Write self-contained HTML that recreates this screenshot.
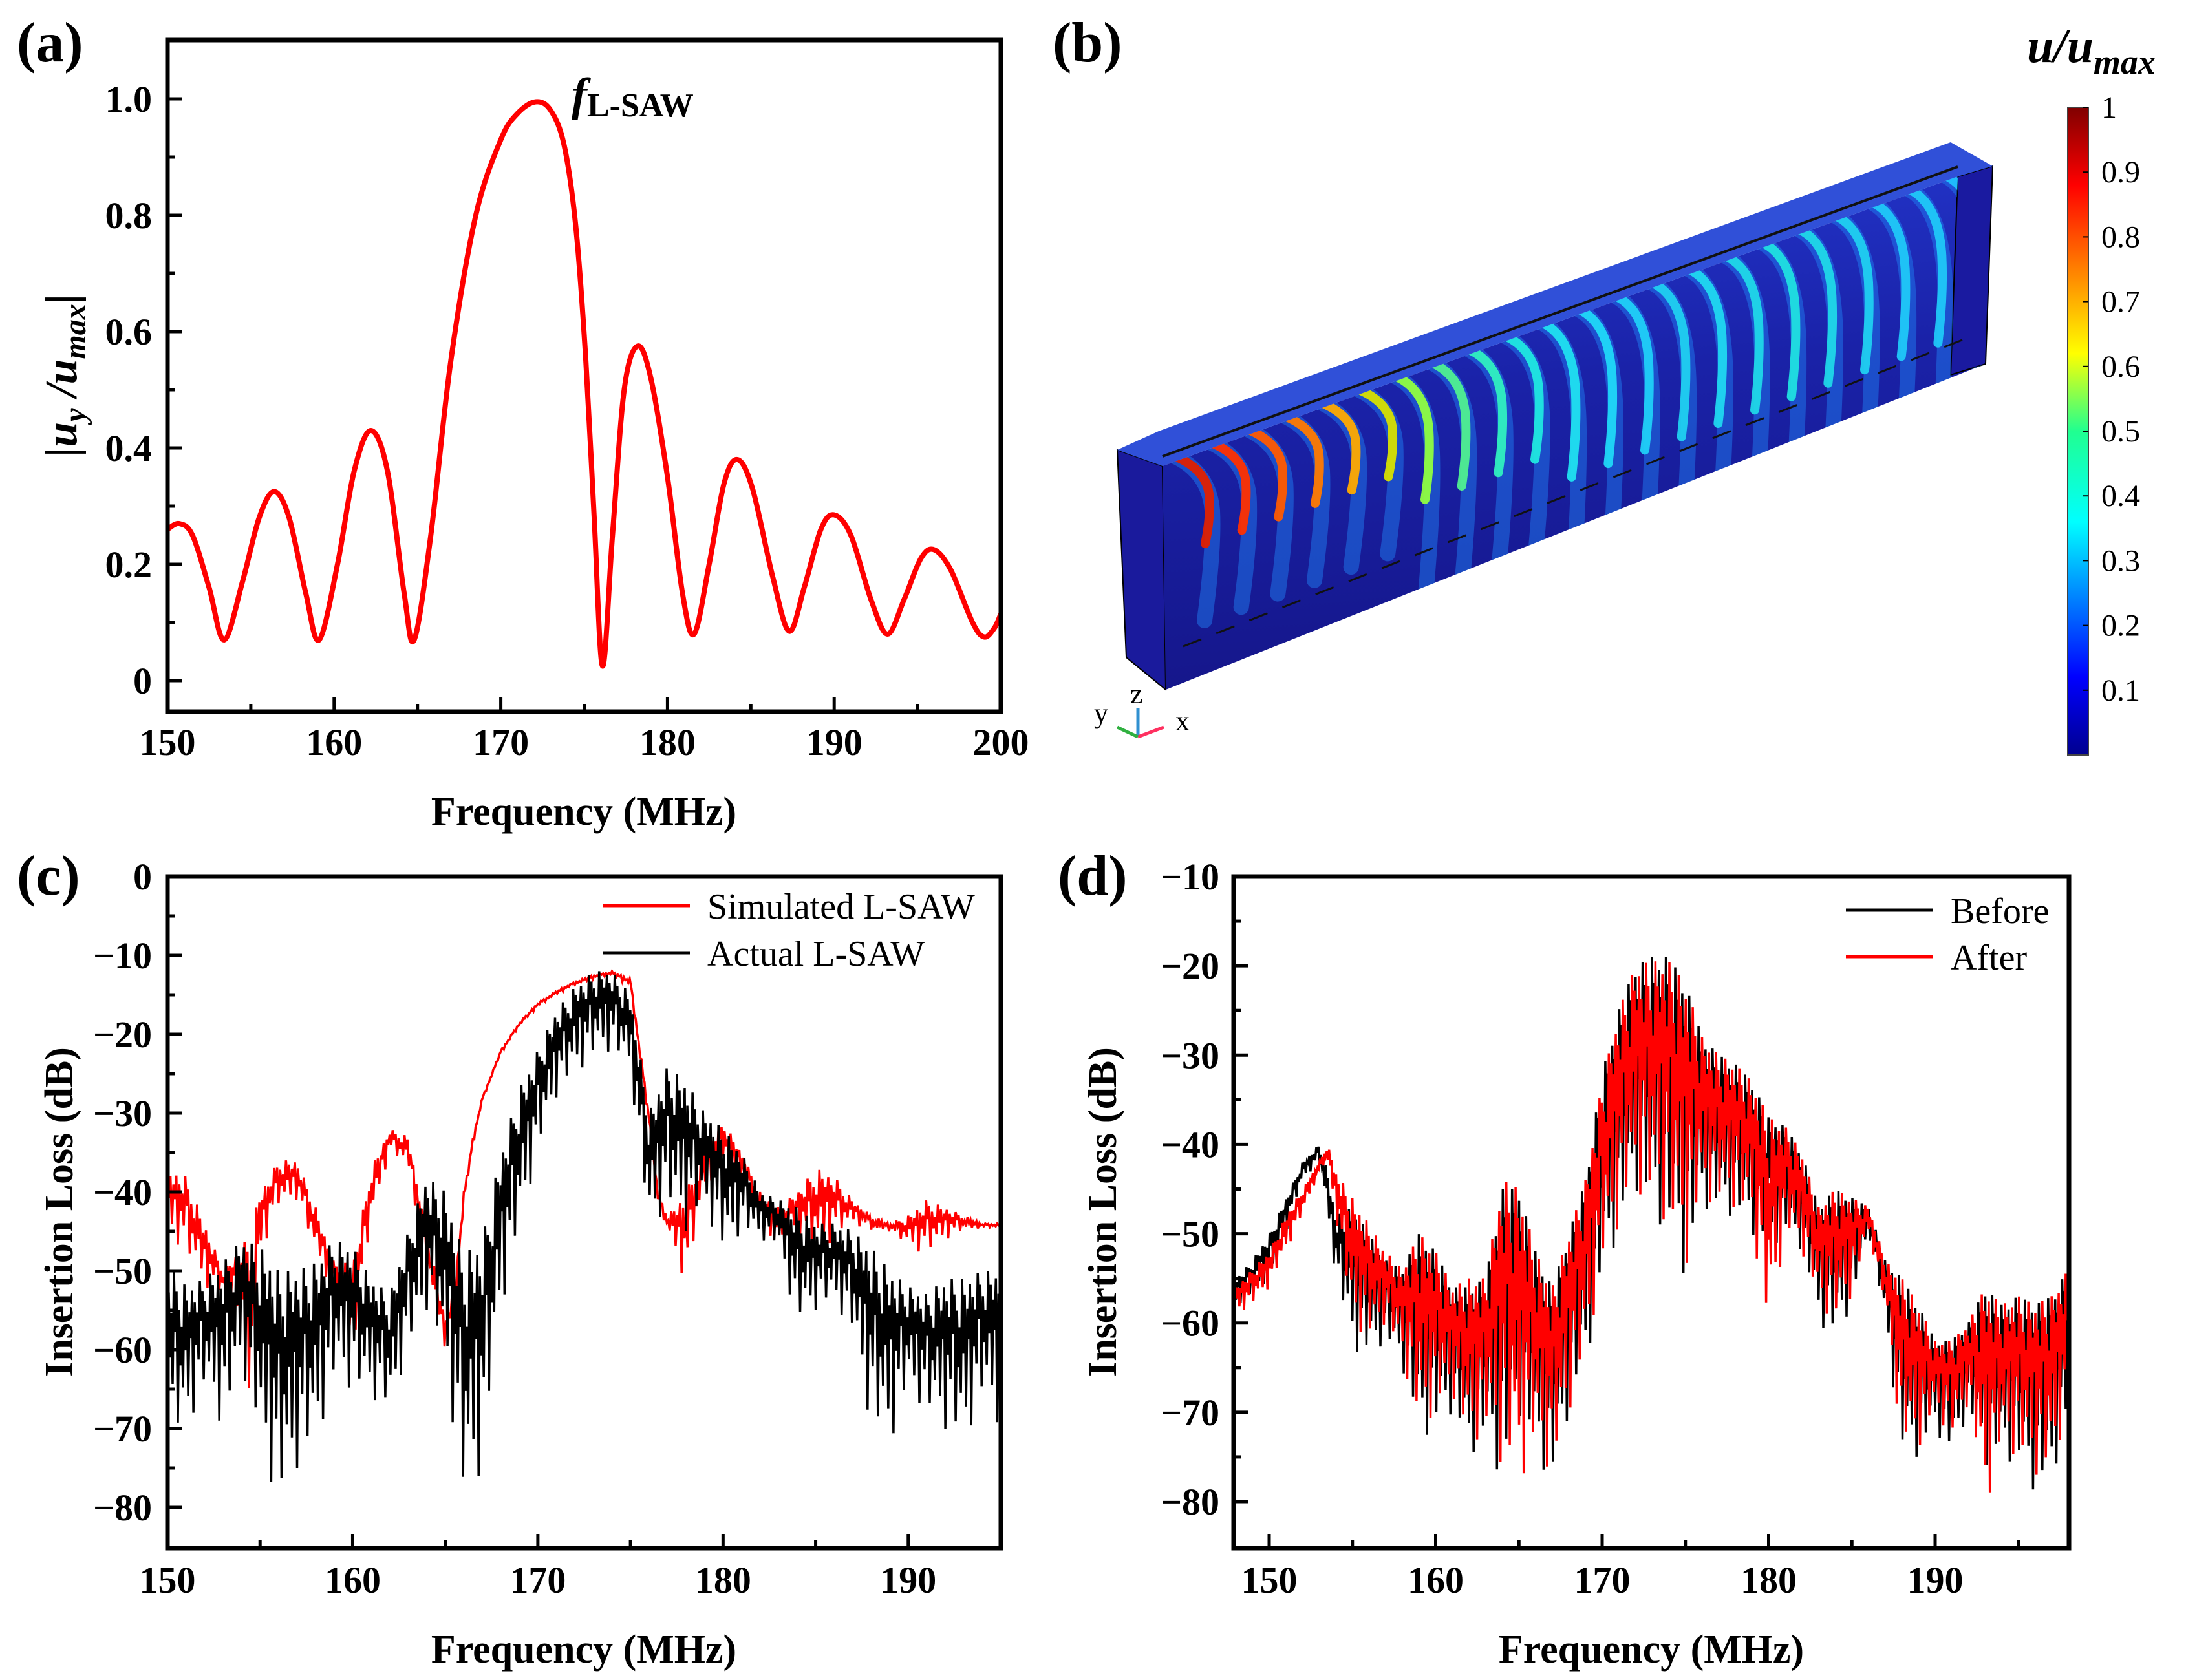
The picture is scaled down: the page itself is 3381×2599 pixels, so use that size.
<!DOCTYPE html>
<html><head><meta charset="utf-8"><style>
html,body{margin:0;padding:0;background:#fff;}
svg{display:block;}
text{font-family:"Liberation Serif","DejaVu Serif",serif;}
</style></head><body>
<svg id="fig" width="3381" height="2599" viewBox="0 0 3381 2599" xmlns="http://www.w3.org/2000/svg">
<defs>
<linearGradient id="jet" x1="0" y1="1" x2="0" y2="0">
<stop offset="0" stop-color="#00008f"/><stop offset="0.12" stop-color="#0000ff"/><stop offset="0.36" stop-color="#00ffff"/><stop offset="0.5" stop-color="#20ff90"/><stop offset="0.62" stop-color="#ffff00"/><stop offset="0.88" stop-color="#ff0000"/><stop offset="1" stop-color="#800000"/>
</linearGradient>
<linearGradient id="face" x1="0" y1="0" x2="0.15" y2="1">
<stop offset="0" stop-color="#2438d0"/><stop offset="0.45" stop-color="#1a22a8"/><stop offset="1" stop-color="#15168a"/>
</linearGradient>
<clipPath id="clipFace"><polygon points="1798,721 3028,273 3017,580 3071,563 1803,1067"/></clipPath>
</defs>
<g id="pa"></g>
<g id="pb"></g>
<g id="pc"></g>
<g id="pd"></g>
</svg>
<script>
// ---------- data ----------
const aFreq = [150,150.7,151.5,152.5,153.4,154.5,155.5,156.4,157.3,158.3,159.1,160.2,161.2,162.2,163.2,164.2,164.8,165.8,167,168.5,170,171,172.1,173,173.8,174.5,175.1,175.6,176.1,176.7,177.4,178.2,179,180,180.9,181.6,182.5,183.4,184.2,185.1,186.3,187.3,188.2,189.2,190,191,192.2,193.2,194.2,195.2,196,197,198.3,199,199.6,200];
const aVal  = [0.26,0.27,0.25,0.16,0.07,0.17,0.28,0.325,0.28,0.15,0.07,0.2,0.36,0.43,0.36,0.15,0.07,0.25,0.55,0.8,0.93,0.975,0.995,0.98,0.92,0.78,0.55,0.28,0.025,0.25,0.5,0.575,0.52,0.35,0.15,0.08,0.2,0.34,0.38,0.33,0.18,0.085,0.16,0.26,0.285,0.25,0.14,0.08,0.14,0.21,0.225,0.19,0.1,0.075,0.09,0.115];
const aXTicks = [150,160,170,180,190,200];
const aYTicks = [0,0.2,0.4,0.6,0.8,1.0];
const aYLabels = ["0","0.2","0.4","0.6","0.8","1.0"];

const cSimFreq = [150,151,152,153,154,154.5,155,156,157,158,159,160,161,162,163,164,165,165.5,166,166.5,167,168,169,170,171,172,173,174,175,176,176.5,177,178,179,180,181,182,183,184,185,186,187,188,189,190,191,192,193,194,195];
const cSimHi   = [-37,-38,-44,-50,-47,-45,-40,-36,-36,-42,-49,-49,-37,-32,-33,-45,-56,-52,-40,-33,-28,-22,-18.5,-16,-14.5,-13.3,-12.5,-12,-13,-30,-40,-43,-40,-34,-31,-35,-40,-42,-40,-37,-38,-41,-43,-44,-43,-41,-42,-43,-44,-44];
const cSimLo   = [-45,-48,-52,-53,-55,-70,-48,-42,-41,-48,-53,-60,-44,-35,-37,-50,-60,-55,-42,-34,-28.5,-22.5,-19,-16.5,-15,-13.8,-13,-12.5,-14,-32,-42,-45,-52,-40,-36,-38,-45,-46,-45,-48,-46,-44,-45,-45,-47,-48,-46,-45,-44.5,-44.5];
const cActFreq = [150,151,152,153,154,155,156,157,158,159,160,161,162,163,164,165,166,167,168,169,170,171,172,173,174,175,176,177,178,179,180,181,182,183,184,185,186,187,188,189,190,191,192,193,194,195];
const cActHi   = [-49,-52,-51,-49,-46,-47,-50,-50,-49,-46,-47,-51,-53,-45,-38,-40,-48,-46,-35,-27,-22,-17,-14,-12,-12,-15,-30,-24,-26,-30,-32,-35,-40,-41,-42,-44,-44,-45,-47,-50,-52,-53,-51,-51,-50,-50];
const cActLo   = [-73,-70,-65,-70,-62,-72,-80,-75,-72,-64,-65,-66,-68,-60,-55,-62,-80,-75,-55,-45,-35,-28,-25,-23,-22,-25,-45,-42,-45,-42,-48,-45,-46,-47,-57,-55,-54,-58,-70,-72,-65,-68,-70,-72,-66,-70];
const cXTicks = [150,160,170,180,190];
const cYTicks = [0,-10,-20,-30,-40,-50,-60,-70,-80];

const dFreq = [148,149,150,151,152,153,153.5,154,155,156,157,158,159,160,161,162,163,164,165,166,167,168,169,170,171,172,173,174,175,176,177,178,179,180,181,182,183,184,185,186,187,188,189,190,191,192,193,194,195,196,197,198];
const dBefHi = [-55,-53,-50,-46,-42,-40,-43,-48,-47,-50,-53,-54,-50,-52,-56,-56,-55,-45,-45,-52,-56,-50,-44,-32,-25,-20,-19,-19,-22,-28,-30,-31,-33,-37,-38,-41,-47,-45,-46,-47,-53,-55,-58,-62,-62,-60,-56,-58,-57,-58,-57,-54];
const dBefLo = [-58,-57,-55,-50,-44,-42,-48,-55,-63,-64,-62,-65,-73,-72,-70,-75,-73,-78,-70,-75,-78,-70,-65,-55,-50,-45,-48,-50,-55,-47,-48,-48,-50,-52,-50,-52,-60,-62,-58,-50,-60,-75,-75,-72,-75,-70,-76,-75,-76,-79,-78,-70];
const dAftHi = [-56,-54,-52,-48,-45,-42,-40,-43,-46,-49,-52,-54,-50,-52,-56,-55,-55,-44,-45,-52,-56,-50,-44,-33,-25,-20,-19.5,-19.5,-22,-28,-30,-31,-33,-37,-38,-41,-47,-45,-46,-47,-53,-55,-58,-62,-62,-60,-56,-58,-57,-58,-57,-54];
const dAftLo = [-59,-58,-56,-52,-48,-43,-42,-48,-60,-62,-60,-64,-72,-70,-68,-74,-72,-76,-78,-74,-77,-70,-64,-54,-49,-45,-47,-49,-54,-46,-47,-47,-49,-62,-50,-52,-58,-60,-57,-50,-58,-74,-74,-70,-73,-69,-81,-74,-75,-77,-77,-69];
const dXTicks = [150,160,170,180,190];
const dYTicks = [-10,-20,-30,-40,-50,-60,-70,-80];

const cbTicks = [0.1,0.2,0.3,0.4,0.5,0.6,0.7,0.8,0.9,1];
const cbLabels = ["0.1","0.2","0.3","0.4","0.5","0.6","0.7","0.8","0.9","1"];

// ---------- helpers ----------
const NS="http://www.w3.org/2000/svg";
function mk(tag, attrs, parent, txt){
  const e=document.createElementNS(NS,tag);
  for(const k in attrs) e.setAttribute(k,attrs[k]);
  if(txt!==undefined) e.textContent=txt;
  parent.appendChild(e); return e;
}
function lin(d0,d1,r0,r1){return v=>r0+(v-d0)*(r1-r0)/(d1-d0);}
function interp(xs,ys,x){
  if(x<=xs[0]) return ys[0];
  for(let i=1;i<xs.length;i++){ if(x<=xs[i]){const t=(x-xs[i-1])/(xs[i]-xs[i-1]);return ys[i-1]+t*(ys[i]-ys[i-1]);} }
  return ys[ys.length-1];
}
const PAT=[1,0.55,0.9,0.2,0.8,0.6,0.95,0.0,0.85,0.5,0.75,0.35,1,0.65,0.9,0.1,0.8,0.45,0.7,0.3];
function noisyPath(xs,hi,lo,sx,sy,step,off){
  let d=""; let i=0;
  for(let f=xs[0]; f<=xs[xs.length-1]+1e-9; f+=step,i++){
    const h=interp(xs,hi,f), l=interp(xs,lo,f);
    const p=PAT[(i+off)%PAT.length];
    const v=l+(h-l)*p;
    d+=(i?"L":"M")+sx(f).toFixed(1)+","+sy(v).toFixed(1);
  }
  return d;
}
function smoothPath(xs,ys,sx,sy){
  const P=xs.map((x,i)=>[sx(x),sy(ys[i])]);
  let d="M"+P[0][0]+","+P[0][1];
  for(let i=0;i<P.length-1;i++){
    const p0=P[i-1]||P[i],p1=P[i],p2=P[i+1],p3=P[i+2]||P[i+1];
    const c1=[p1[0]+(p2[0]-p0[0])/6,p1[1]+(p2[1]-p0[1])/6];
    const c2=[p2[0]-(p3[0]-p1[0])/6,p2[1]-(p3[1]-p1[1])/6];
    d+="C"+c1[0].toFixed(1)+","+c1[1].toFixed(1)+" "+c2[0].toFixed(1)+","+c2[1].toFixed(1)+" "+p2[0].toFixed(1)+","+p2[1].toFixed(1);
  }
  return d;
}
function frame(g,L,T,R,B){
  const r=mk('rect',{x:L,y:T,width:R-L,height:B-T,fill:'none',stroke:'#000','stroke-width':7},g);
  
  
}
function xTicks(g,sx,ticks,minors,B,labels,baseline){
  minors.forEach(v=>{const l=mk('line',{x1:sx(v),x2:sx(v),y1:B,y2:B-12,stroke:'#000','stroke-width':5},g);
    
    });
  ticks.forEach((v,i)=>{
    const l=mk('line',{x1:sx(v),x2:sx(v),y1:B,y2:B-22,stroke:'#000','stroke-width':5},g);
    
    
    const t=mk('text',{x:sx(v),y:baseline,'text-anchor':'middle','font-size':58,'font-weight':'bold'},g,labels[i]);
    
    
  });
}
function yTicks(g,sy,ticks,minors,L,labels,rx){
  minors.forEach(v=>{const l=mk('line',{x1:L,x2:L+12,y1:sy(v),y2:sy(v),stroke:'#000','stroke-width':5},g);
    
    });
  ticks.forEach((v,i)=>{
    const l=mk('line',{x1:L,x2:L+22,y1:sy(v),y2:sy(v),stroke:'#000','stroke-width':5},g);
    
    
    const t=mk('text',{x:rx,y:sy(v)+20,'text-anchor':'end','font-size':58,'font-weight':'bold'},g,labels[i]);
    
    
  });
}
function label(g,x,y,s,name,extra){
  const t=mk('text',Object.assign({x:x,y:y,'font-size':88,'font-weight':'bold'},extra||{}),g,s);
  
  
  return t;
}

// ---------- panel a ----------
(function(){
  const g=document.getElementById('pa');
  const L=259,R=1548,T=62,B=1101;
  const sx=lin(150,200,L,R), sy=lin(0,1,1053,153);
  const cp=mk('clipPath',{id:'clipA'},g); mk('rect',{x:L,y:T,width:R-L,height:B-T},cp);
  const p=mk('path',{d:smoothPath(aFreq,aVal,sx,sy),fill:'none',stroke:'#ff0000','stroke-width':8,'clip-path':'url(#clipA)'},g);
  
  
  frame(g,L,T,R,B);
  xTicks(g,sx,aXTicks,[155,165,175,185,195],B,aXTicks.map(String),1168);
  yTicks(g,sy,aYTicks,[0.1,0.3,0.5,0.7,0.9],L,aYLabels,235);
  label(g,26,95,'(a)','panel-label-a');
  const xt=mk('text',{x:903,y:1276,'text-anchor':'middle','font-size':62,'font-weight':'bold'},g,'Frequency (MHz)');
  
  
  const yt=mk('text',{transform:'translate(118,581) rotate(-90)','text-anchor':'middle','font-size':70,'font-weight':'bold','font-style':'italic'},g);
  
  
  yt.innerHTML='<tspan font-style="normal">|</tspan>u<tspan font-size="48" dy="14">y</tspan><tspan dy="-14"> /u</tspan><tspan font-size="48" dy="14">max</tspan><tspan dy="-14" font-style="normal">|</tspan>';
  const f=mk('text',{x:884,y:170,'font-size':72,'font-weight':'bold','font-style':'italic'},g);
  
  
  f.innerHTML='f<tspan font-size="52" font-style="normal" dy="10">L-SAW</tspan>';
})();

// ---------- panel b ----------
(function(){
  const g=document.getElementById('pb');
  label(g,1628,95,'(b)','panel-label-b');
  const blk=mk('g',{},g);
  
  
  mk('polygon',{points:'1728,696 1798,721 1803,1067 1742,1017',fill:'#1a1a9c',stroke:'#000','stroke-width':2},blk);
  mk('polygon',{points:'1798,721 3028,273 3017,580 3071,563 1803,1067',fill:'url(#face)'},blk);
  mk('polygon',{points:'3028,273 3082,257 3071,563 3017,580',fill:'#1a1aa0',stroke:'#000','stroke-width':2},blk);
  mk('polygon',{points:'1728,696 1792,667 3017,220 3082,257 3028,273 1798,721',fill:'#3050d8'},blk);
  const fins=mk('g',{'clip-path':'url(#clipFace)'},blk);
  const n=22;
  const cols=['#e02000','#ff3000','#ff5a00','#ff7a00','#ffaa00','#d8e000','#90ff40','#50f090','#30f0c0','#20e8e0','#20e0f0','#20d8f8','#20d0f8','#20d0f0','#20d8f0','#20d8e8','#20e0e0','#20d8e8','#20d0f0','#20c8f8','#20c8f8','#20c0ff'];
  for(let i=0;i<n;i++){
    const t=i/(n-1);
    const x0=1815+t*1190, y0=715-t*435;
    const len=i<6?170:(i<10?240:300);
    mk('path',{d:'M'+x0+','+(y0-10)+' q55,25 60,'+(len*0.5)+' q3,'+(len*0.35)+' -12,'+len,fill:'none',stroke:'#1f7cf0','stroke-width':24,'stroke-linecap':'round',opacity:0.5},fins);
    mk('path',{d:'M'+x0+','+(y0-10)+' q50,20 55,'+(len*0.35)+' q3,'+(len*0.2)+' -6,'+(len*0.45),fill:'none',stroke:cols[i],'stroke-width':14,'stroke-linecap':'round',opacity:0.95},fins);
  }
  mk('line',{x1:1798,y1:706,x2:3028,y2:258,stroke:'#111','stroke-width':4},blk);
  mk('line',{x1:1830,y1:1000,x2:3050,y2:520,stroke:'#111','stroke-width':3,'stroke-dasharray':'30,25'},blk);
  const tri=mk('g',{},g);
  
  
  mk('line',{x1:1760,y1:1140,x2:1760,y2:1095,stroke:'#3090d0','stroke-width':5},tri);
  mk('line',{x1:1760,y1:1140,x2:1800,y2:1125,stroke:'#ff3060','stroke-width':5},tri);
  mk('line',{x1:1760,y1:1140,x2:1728,y2:1125,stroke:'#30b040','stroke-width':5},tri);
  mk('text',{x:1748,y:1088,'font-size':44},tri,'z');
  mk('text',{x:1818,y:1130,'font-size':44},tri,'x');
  mk('text',{x:1692,y:1118,'font-size':44},tri,'y');
  const cb=mk('g',{},g);
  
  
  mk('rect',{x:3198,y:166,width:32,height:1002,fill:'url(#jet)',stroke:'#444','stroke-width':2},cb);
  const cy=lin(0,1,1168,166);
  cbTicks.forEach((v,i)=>{
    mk('line',{x1:3222,x2:3230,y1:cy(v),y2:cy(v),stroke:'#000','stroke-width':2},cb);
    const t=mk('text',{x:3250,y:cy(v)+16,'font-size':48},cb,cbLabels[i]);
    
    
  });
  const ct=mk('text',{x:3135,y:96,'font-size':74,'font-weight':'bold','font-style':'italic'},cb);
  
  
  ct.innerHTML='u/u<tspan font-size="54" dy="18">max</tspan>';
})();

// ---------- panel c ----------
(function(){
  const g=document.getElementById('pc');
  const L=259,R=1548,T=1356,B=2395;
  const sx=lin(150,195,L,R), sy=lin(0,-80,1356,2332);
  const cp=mk('clipPath',{id:'clipC'},g); mk('rect',{x:L,y:T,width:R-L,height:B-T},cp);
  const s=mk('path',{d:noisyPath(cSimFreq,cSimHi,cSimLo,sx,sy,0.08,0),fill:'none',stroke:'#ff0000','stroke-width':3.5,'clip-path':'url(#clipC)'},g);
  
  
  const a=mk('path',{d:noisyPath(cActFreq,cActHi,cActLo,sx,sy,0.07,7),fill:'none',stroke:'#000','stroke-width':3.5,'clip-path':'url(#clipC)'},g);
  
  
  frame(g,L,T,R,B);
  xTicks(g,sx,cXTicks,[155,165,175,185],B,cXTicks.map(String),2464);
  yTicks(g,sy,cYTicks,[-5,-15,-25,-35,-45,-55,-65,-75],L,cYTicks.map(v=>v===0?'0':'\u2212'+(-v)),235);
  label(g,26,1384,'(c)','panel-label-c');
  const xt=mk('text',{x:903,y:2572,'text-anchor':'middle','font-size':62,'font-weight':'bold'},g,'Frequency (MHz)');
  
  
  const yt=mk('text',{transform:'translate(112,1875) rotate(-90)','text-anchor':'middle','font-size':62,'font-weight':'bold'},g,'Insertion Loss (dB)');
  
  
  const l1=mk('g',{},g);  
  mk('line',{x1:932,x2:1067,y1:1401,y2:1401,stroke:'#ff0000','stroke-width':5},l1);
  mk('text',{x:1094,y:1421,'font-size':56},l1,'Simulated L-SAW');
  const l2=mk('g',{},g);  
  mk('line',{x1:932,x2:1067,y1:1474,y2:1474,stroke:'#000','stroke-width':5},l2);
  mk('text',{x:1094,y:1494,'font-size':56},l2,'Actual L-SAW');
})();

// ---------- panel d ----------
(function(){
  const g=document.getElementById('pd');
  const L=1908,R=3200,T=1356,B=2395;
  const sx=lin(150,190,1963,2993), sy=lin(-10,-80,1356,2323);
  const cp=mk('clipPath',{id:'clipD'},g); mk('rect',{x:L,y:T,width:R-L,height:B-T},cp);
  const b=mk('path',{d:noisyPath(dFreq,dBefHi,dBefLo,sx,sy,0.07,3),fill:'none',stroke:'#000','stroke-width':3.5,'clip-path':'url(#clipD)'},g);
  
  
  const a=mk('path',{d:noisyPath(dFreq,dAftHi,dAftLo,sx,sy,0.07,0),fill:'none',stroke:'#ff0000','stroke-width':3.5,'clip-path':'url(#clipD)'},g);
  
  
  frame(g,L,T,R,B);
  xTicks(g,sx,dXTicks,[155,165,175,185,195],B,dXTicks.map(String),2464);
  yTicks(g,sy,dYTicks,[-15,-25,-35,-45,-55,-65,-75],L,dYTicks.map(v=>'\u2212'+(-v)),1886);
  label(g,1636,1384,'(d)','panel-label-d');
  const xt=mk('text',{x:2554,y:2572,'text-anchor':'middle','font-size':62,'font-weight':'bold'},g,'Frequency (MHz)');
  
  
  const yt=mk('text',{transform:'translate(1726,1875) rotate(-90)','text-anchor':'middle','font-size':62,'font-weight':'bold'},g,'Insertion Loss (dB)');
  
  
  const l1=mk('g',{},g);  
  mk('line',{x1:2855,x2:2990,y1:1408,y2:1408,stroke:'#000','stroke-width':5},l1);
  mk('text',{x:3017,y:1428,'font-size':56},l1,'Before');
  const l2=mk('g',{},g);  
  mk('line',{x1:2855,x2:2990,y1:1480,y2:1480,stroke:'#ff0000','stroke-width':5},l2);
  mk('text',{x:3017,y:1500,'font-size':56},l2,'After');
})();
</script>
</body></html>
